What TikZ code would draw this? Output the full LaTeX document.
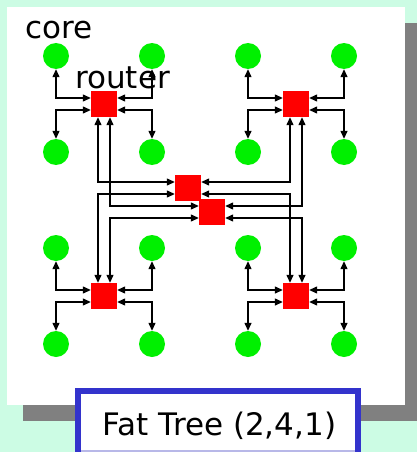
\documentclass[tikz,border=0pt]{standalone}
\usepackage{fontspec}
\setmainfont{DejaVu Sans}
\usetikzlibrary{arrows.meta}
\definecolor{mint}{HTML}{CCFCE4}
\definecolor{shadowgray}{HTML}{808080}
\definecolor{leafgreen}{HTML}{00F000}
\definecolor{routerred}{HTML}{FF0000}
\definecolor{boxblue}{HTML}{3333CC}
\definecolor{lavender}{HTML}{B8B8E8}
\tikzset{
  leaf/.style={circle,fill=leafgreen,draw=none,minimum size=26pt,inner sep=0pt},
  switchbox/.style={rectangle,fill=routerred,draw=none,minimum size=26pt,inner sep=0pt},
  link/.style={line width=1.3pt,{Triangle[length=8pt,width=7pt]}-{Triangle[length=8pt,width=7pt]}},
  bigtext/.style={font=\fontsize{31}{36}\selectfont,inner sep=0pt}
}
\begin{document}
\begin{tikzpicture}[x=1pt,y=-1pt]
\useasboundingbox (0,0) rectangle (417,452);
\clip (0,0) rectangle (417,452);
\fill[mint] (0,0) rectangle (417,452);
\fill[shadowgray] (23,23) rectangle (421,421);
\fill[white] (7,7) rectangle (405,405);
% groups
\foreach \g/\cx/\cy in {a/104/104, b/296/104, c/104/296, d/296/296}{
  \node[switchbox] (r\g) at (\cx,\cy) {};
  \node[leaf] (\g1) at (\cx-48,\cy-48) {};
  \node[leaf] (\g2) at (\cx+48,\cy-48) {};
  \node[leaf] (\g3) at (\cx-48,\cy+48) {};
  \node[leaf] (\g4) at (\cx+48,\cy+48) {};
}
\node[switchbox] (m1) at (188,188) {};
\node[switchbox] (m2) at (212,212) {};
% local links
\foreach \g in {a,b,c,d}{
  \draw[link] (\g1.south) |- ([yshift=6pt]r\g.west);
  \draw[link] (\g2.south) |- ([yshift=6pt]r\g.east);
  \draw[link] (\g3.north) |- ([yshift=-6pt]r\g.west);
  \draw[link] (\g4.north) |- ([yshift=-6pt]r\g.east);
}
% core links
\draw[link] ([xshift=-6pt]ra.south) |- ([yshift=6pt]m1.west);
\draw[link] ([xshift=6pt]ra.south) |- ([yshift=6pt]m2.west);
\draw[link] ([xshift=-6pt]rc.north) |- ([yshift=-6pt]m1.west);
\draw[link] ([xshift=6pt]rc.north) |- ([yshift=-6pt]m2.west);
\draw[link] ([xshift=-6pt]rb.south) |- ([yshift=6pt]m1.east);
\draw[link] ([xshift=6pt]rb.south) |- ([yshift=6pt]m2.east);
\draw[link] ([xshift=-6pt]rd.north) |- ([yshift=-6pt]m1.east);
\draw[link] ([xshift=6pt]rd.north) |- ([yshift=-6pt]m2.east);
% labels
\node[bigtext,anchor=base west] (corelbl) at (25,39) {core};
\node[bigtext,anchor=base west] (routerlbl) at (75,88) {router};
% title box
\fill[boxblue] (75,388) rectangle (361,460);
\fill[white] (80.7,393.7) rectangle (355.3,450);
\fill[lavender] (80.7,450) rectangle (355.3,452);
\node[bigtext,anchor=base] (title) at (219.5,435) {Fat Tree (2,4,1)};
\end{tikzpicture}
\end{document}
